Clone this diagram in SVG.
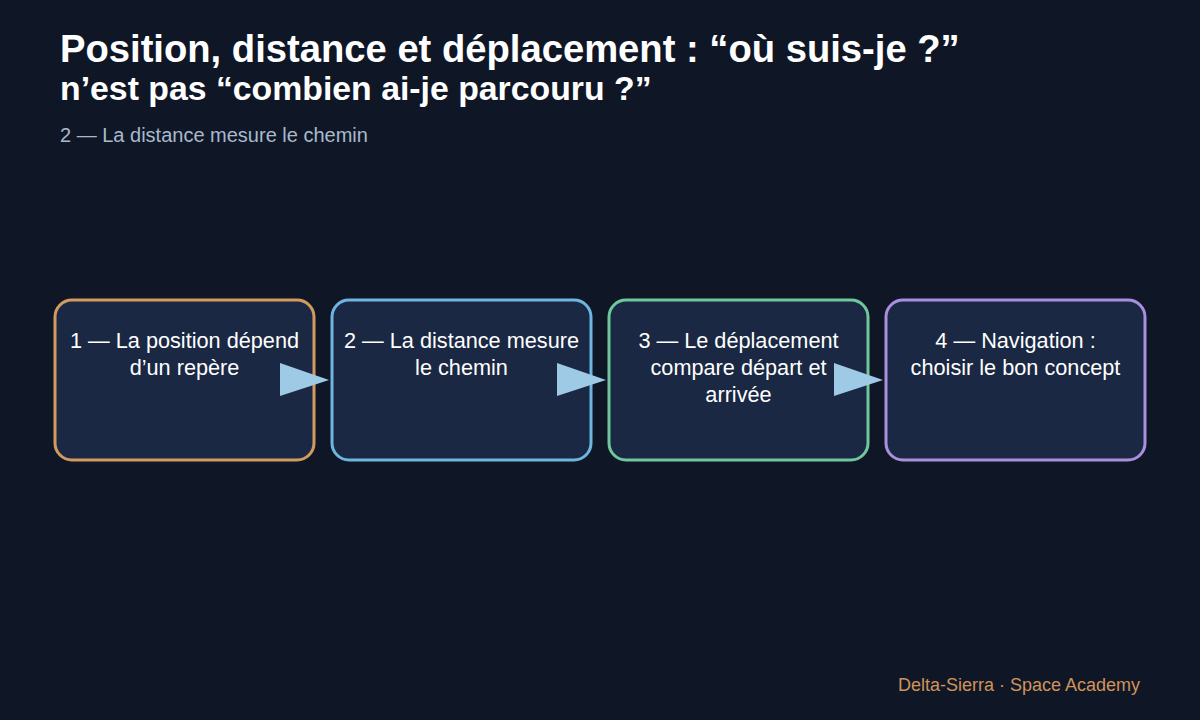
<svg xmlns="http://www.w3.org/2000/svg" width="1200" height="720" viewBox="0 0 1200 720">
<style>
.bg{fill:#0f1727}
.box{fill:#1a2843;stroke-width:3}
.lbl{font-family:"Liberation Sans",Arial,sans-serif;font-size:21.7px;fill:#ffffff;text-anchor:middle}
.title{font-family:"Liberation Sans",Arial,sans-serif;font-weight:bold;fill:#ffffff}
.sub{font-family:"Liberation Sans",Arial,sans-serif;font-size:20px;fill:#a9b9cc}
.foot{font-family:"Liberation Sans",Arial,sans-serif;font-size:18px;fill:#d0935a;text-anchor:end}
.arr{fill:#9ecae6}
</style>
<rect class="bg" x="0" y="0" width="1200" height="720"/>
<g id="title">
<text class="title" x="60" y="62" font-size="38.2">Position, distance et déplacement : “où suis-je ?”</text>
<text class="title" x="60" y="100" font-size="33.8">n’est pas “combien ai-je parcouru ?”</text>
<text class="sub" x="60" y="142">2 — La distance mesure le chemin</text>
</g>
<g id="node1">
<rect class="box" x="55" y="300" width="259" height="160" rx="17" stroke="#d39a5f"/>
<text class="lbl" x="184.5" y="348">1 — La position dépend</text>
<text class="lbl" x="184.5" y="375">d’un repère</text>
</g>
<g id="node2">
<rect class="box" x="332" y="300" width="259" height="160" rx="17" stroke="#6fb5e0"/>
<text class="lbl" x="461.5" y="348">2 — La distance mesure</text>
<text class="lbl" x="461.5" y="375">le chemin</text>
</g>
<g id="node3">
<rect class="box" x="609" y="300" width="259" height="160" rx="17" stroke="#6fc79b"/>
<text class="lbl" x="738.5" y="348">3 — Le déplacement</text>
<text class="lbl" x="738.5" y="375">compare départ et</text>
<text class="lbl" x="738.5" y="402">arrivée</text>
</g>
<g id="node4">
<rect class="box" x="886" y="300" width="259" height="160" rx="17" stroke="#a98fde"/>
<text class="lbl" x="1015.5" y="348">4 — Navigation :</text>
<text class="lbl" x="1015.5" y="375">choisir le bon concept</text>
</g>
<g id="connectors">
<polygon class="arr" points="280,363 329,380 280,396"/>
<polygon class="arr" points="557,363 606,380 557,396"/>
<polygon class="arr" points="834,363 883,380 834,396"/>
</g>
<text class="foot" x="1140" y="691">Delta-Sierra · Space Academy</text>
</svg>
